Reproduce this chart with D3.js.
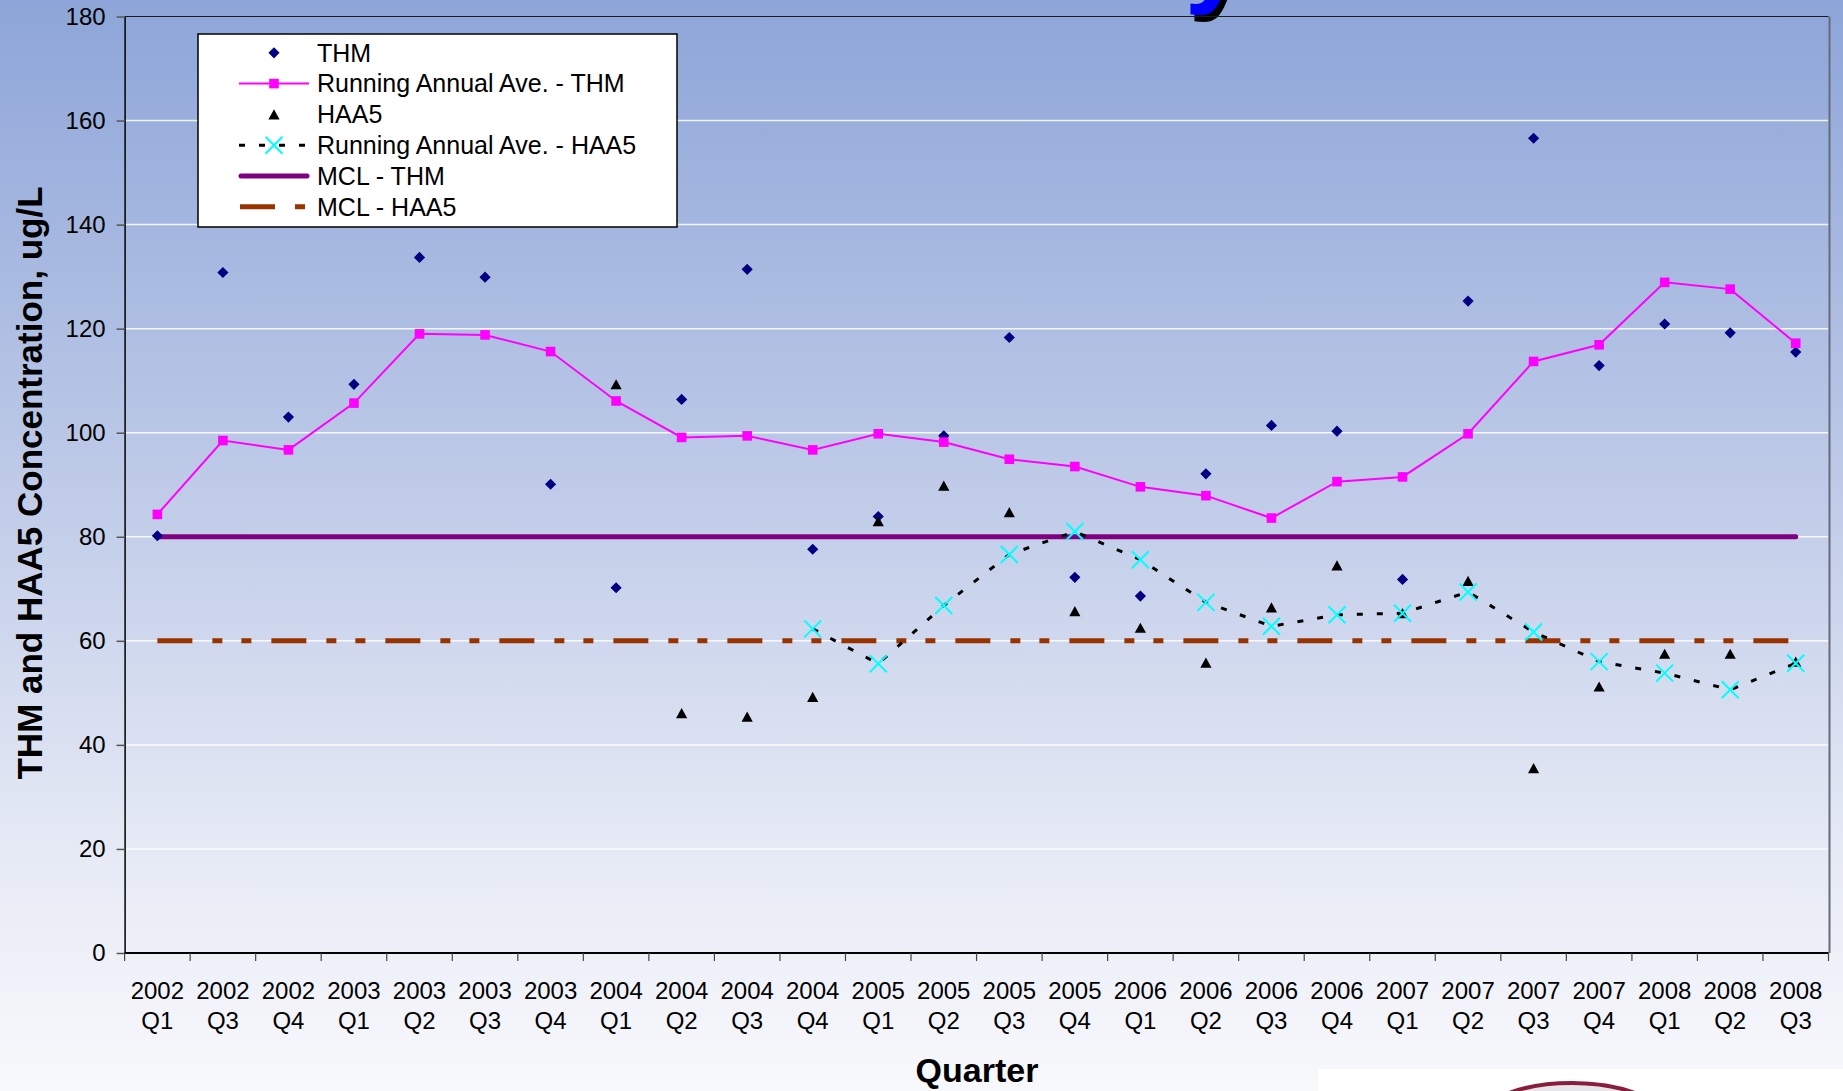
<!DOCTYPE html>
<html>
<head>
<meta charset="utf-8">
<script src="https://cdn.jsdelivr.net/npm/d3@7"></script>
<style>
  html, body { margin: 0; padding: 0; overflow: hidden; background: #f8f9fc; }
  svg { display: block; font-family: "Liberation Sans", Arial, sans-serif; }
</style>
</head>
<body>
<svg id="chart" width="1843" height="1091"></svg>
<script>
// Sampling quarters (2002 Q2 was not sampled)
const categories = [
  "2002 Q1", "2002 Q3", "2002 Q4",
  "2003 Q1", "2003 Q2", "2003 Q3", "2003 Q4",
  "2004 Q1", "2004 Q2", "2004 Q3", "2004 Q4",
  "2005 Q1", "2005 Q2", "2005 Q3", "2005 Q4",
  "2006 Q1", "2006 Q2", "2006 Q3", "2006 Q4",
  "2007 Q1", "2007 Q2", "2007 Q3", "2007 Q4",
  "2008 Q1", "2008 Q2", "2008 Q3"
];

// Total trihalomethanes, ug/L
const thm = [
  80.2, 130.8, 103.0,
  109.3, 133.7, 129.9, 90.1,
  70.2, 106.4, 131.4, 77.6,
  83.9, 99.4, 118.3, 72.2,
  68.6, 92.1, 101.4, 100.3,
  71.8, 125.3, 156.6, 112.9,
  120.9, 119.2, 115.5
];

// Running annual average of THM
const thmRunningAvg = [
  84.3, 98.5, 96.7,
  105.7, 119.0, 118.8, 115.6,
  106.1, 99.1, 99.4, 96.7,
  99.8, 98.2, 94.9, 93.5,
  89.6, 87.9, 83.6, 90.6,
  91.5, 99.8, 113.7, 116.9,
  128.9, 127.6, 117.2
];

// Five haloacetic acids, ug/L (monitoring began 2004 Q1)
const haa5 = [
  null, null, null,
  null, null, null, null,
  109.3, 46.1, 45.4, 49.2,
  83.0, 89.8, 84.7, 65.7,
  62.5, 55.8, 66.4, 74.5,
  65.3, 71.5, 35.5, 51.2,
  57.5, 57.5, 56.0
];

// Running annual average of HAA5
const haa5RunningAvg = [
  null, null, null,
  null, null, null, null,
  null, null, null, 62.3,
  55.6, 66.8, 76.6, 81.0,
  75.6, 67.4, 62.8, 65.0,
  65.3, 69.4, 61.7, 56.0,
  53.8, 50.6, 55.7
];

// Maximum contaminant levels
const mclThm = 80;
const mclHaa5 = 60;

const yTicks = [0, 20, 40, 60, 80, 100, 120, 140, 160, 180];

const legendLabels = [
  "THM",
  "Running Annual Ave. - THM",
  "HAA5",
  "Running Annual Ave. - HAA5",
  "MCL - THM",
  "MCL - HAA5"
];

// ---------------------------------------------------------------
const W = 1843, H = 1091;
const plot = { left: 124.6, right: 1828.5, top: 16.5, bottom: 953 };

const svg = d3.select("#chart");
const defs = svg.append("defs");

const bg = defs.append("linearGradient")
  .attr("id", "bg").attr("x1", 0).attr("y1", 0).attr("x2", 0).attr("y2", 1);
[[0, "#8da5d8"], [0.45, "#bfcbe8"], [0.78, "#e6eaf5"], [1, "#f8f9fc"]]
  .forEach(([o, c]) => bg.append("stop").attr("offset", o).attr("stop-color", c));

const shadow = defs.append("filter").attr("id", "titleShadow")
  .attr("filterUnits", "userSpaceOnUse")
  .attr("x", 800).attr("y", -150).attr("width", 500).attr("height", 200);
shadow.append("feDropShadow").attr("dx", 4).attr("dy", 7)
  .attr("stdDeviation", 0.5).attr("flood-color", "#000").attr("flood-opacity", 1);

svg.append("rect").attr("width", W).attr("height", H).attr("fill", "url(#bg)");

// Slide title (runs above the top edge of the page)
svg.append("text")
  .attr("x", 1246).attr("y", -8)
  .attr("text-anchor", "end")
  .attr("font-size", 110).attr("font-weight", "bold")
  .attr("fill", "#0000ff")
  .attr("filter", "url(#titleShadow)")
  .text("History");

// Logo panel at the lower right
svg.append("rect").attr("x", 1318).attr("y", 1069).attr("width", W - 1318).attr("height", H - 1069)
  .attr("fill", "#ffffff");
svg.append("ellipse").attr("cx", 1572).attr("cy", 1123).attr("rx", 95).attr("ry", 40)
  .attr("fill", "#e6e6e8").attr("stroke", "#8a1d3c").attr("stroke-width", 4);

// Scales
const x = d3.scaleBand().domain(categories).range([plot.left, plot.right]);
const cx = c => x(c) + x.bandwidth() / 2;
const y = d3.scaleLinear().domain([0, 180]).range([plot.bottom, plot.top]);

// Gridlines
svg.append("g").selectAll("line")
  .data(yTicks.filter(t => t > 0 && t < 180))
  .join("line")
  .attr("x1", plot.left).attr("x2", plot.right)
  .attr("y1", d => y(d)).attr("y2", d => y(d))
  .attr("stroke", "#ffffff").attr("stroke-opacity", 0.85).attr("stroke-width", 1.5);

// Plot frame (top and right)
svg.append("line").attr("x1", plot.left).attr("x2", plot.right)
  .attr("y1", plot.top).attr("y2", plot.top).attr("stroke", "#1a1a1a").attr("stroke-width", 1.2);
svg.append("line").attr("x1", plot.right + 1).attr("x2", plot.right + 1)
  .attr("y1", plot.top).attr("y2", plot.bottom).attr("stroke", "#676b7c").attr("stroke-width", 2);

// Y axis
const yAxis = svg.append("g")
  .attr("transform", `translate(${plot.left},0)`)
  .call(d3.axisLeft(y).tickValues(yTicks).tickSize(8).tickPadding(11).tickSizeOuter(0));
yAxis.select(".domain").attr("stroke", "#000").attr("stroke-width", 1.5);
yAxis.selectAll(".tick line").attr("stroke", "#555").attr("stroke-width", 1.5);
yAxis.selectAll(".tick text")
  .attr("font-size", 24).attr("font-family", "Liberation Sans, Arial, sans-serif").attr("fill", "#000");

// X axis: baseline, ticks between categories, two-line labels
svg.append("line").attr("x1", plot.left).attr("x2", plot.right)
  .attr("y1", plot.bottom).attr("y2", plot.bottom)
  .attr("stroke", "#000").attr("stroke-width", 2.2);
const bounds = categories.map(c => x(c)).concat([plot.right]);
svg.append("g").selectAll("line").data(bounds).join("line")
  .attr("x1", d => d).attr("x2", d => d)
  .attr("y1", plot.bottom).attr("y2", plot.bottom + 8)
  .attr("stroke", "#444").attr("stroke-width", 1.2);
const xl = svg.append("g").selectAll("text").data(categories).join("text")
  .attr("text-anchor", "middle").attr("font-size", 24).attr("fill", "#000");
xl.append("tspan").attr("x", d => cx(d)).attr("y", 999).text(d => d.split(" ")[0]);
xl.append("tspan").attr("x", d => cx(d)).attr("y", 1029).text(d => d.split(" ")[1]);

// Axis titles
svg.append("text")
  .attr("transform", `translate(42,483) rotate(-90)`)
  .attr("text-anchor", "middle").attr("font-size", 35).attr("font-weight", "bold")
  .text("THM and HAA5 Concentration, ug/L");
svg.append("text")
  .attr("x", 977).attr("y", 1082)
  .attr("text-anchor", "middle").attr("font-size", 34).attr("font-weight", "bold")
  .text("Quarter");

// MCL reference lines
const first = categories[0], last = categories[categories.length - 1];
svg.append("line")
  .attr("x1", cx(first)).attr("x2", cx(last))
  .attr("y1", y(mclThm)).attr("y2", y(mclThm))
  .attr("stroke", "#800080").attr("stroke-width", 5).attr("stroke-linecap", "round");
const mclDash = "35,20,10,19,10,20";
svg.append("line")
  .attr("x1", cx(first)).attr("x2", cx(last))
  .attr("y1", y(mclHaa5)).attr("y2", y(mclHaa5))
  .attr("stroke", "#993300").attr("stroke-width", 5).attr("stroke-dasharray", mclDash);

// Marker shapes
const diamondPath = "M0,-5.6L5.6,0L0,5.6L-5.6,0Z";
const squarePath = "M-4.8,-4.8H4.8V4.8H-4.8Z";
const trianglePath = "M0,-5.2L5.6,5L-5.6,5Z";
const crossPath = "M-8.5,-8.5L8.5,8.5M-8.5,8.5L8.5,-8.5";

const pts = arr => categories.map((c, i) => ({ c, v: arr[i] })).filter(d => d.v != null);
const line = d3.line().x(d => cx(d.c)).y(d => y(d.v));

// THM samples
svg.append("g").selectAll("path").data(pts(thm)).join("path")
  .attr("d", diamondPath)
  .attr("transform", d => `translate(${cx(d.c)},${y(d.v)})`)
  .attr("fill", "#000080");

// THM running average
svg.append("path").datum(pts(thmRunningAvg))
  .attr("d", line).attr("fill", "none")
  .attr("stroke", "#ff00ff").attr("stroke-width", 2);
svg.append("g").selectAll("path").data(pts(thmRunningAvg)).join("path")
  .attr("d", squarePath)
  .attr("transform", d => `translate(${cx(d.c)},${y(d.v)})`)
  .attr("fill", "#ff00ff");

// HAA5 samples
svg.append("g").selectAll("path").data(pts(haa5)).join("path")
  .attr("d", trianglePath)
  .attr("transform", d => `translate(${cx(d.c)},${y(d.v)})`)
  .attr("fill", "#000");

// HAA5 running average
const raaDash = "6,14";
svg.append("path").datum(pts(haa5RunningAvg))
  .attr("d", line).attr("fill", "none")
  .attr("stroke", "#000").attr("stroke-width", 3).attr("stroke-dasharray", raaDash);
svg.append("g").selectAll("path").data(pts(haa5RunningAvg)).join("path")
  .attr("d", crossPath)
  .attr("transform", d => `translate(${cx(d.c)},${y(d.v)})`)
  .attr("fill", "none").attr("stroke", "#00ffff").attr("stroke-width", 2);

// Legend
const lg = svg.append("g");
lg.append("rect").attr("x", 198).attr("y", 34).attr("width", 479).attr("height", 193)
  .attr("fill", "#fff").attr("stroke", "#000").attr("stroke-width", 1.5);
const rowY = i => 52.8 + i * 30.8;
const sx0 = 239, sx1 = 309, sxm = 274;
// symbols
lg.append("path").attr("d", diamondPath).attr("transform", `translate(${sxm},${rowY(0)})`).attr("fill", "#000080");
lg.append("line").attr("x1", sx0).attr("x2", sx1).attr("y1", rowY(1)).attr("y2", rowY(1))
  .attr("stroke", "#ff00ff").attr("stroke-width", 2);
lg.append("path").attr("d", squarePath).attr("transform", `translate(${sxm},${rowY(1)})`).attr("fill", "#ff00ff");
lg.append("path").attr("d", trianglePath).attr("transform", `translate(${sxm},${rowY(2)})`).attr("fill", "#000");
lg.append("line").attr("x1", sx0).attr("x2", sx1).attr("y1", rowY(3)).attr("y2", rowY(3))
  .attr("stroke", "#000").attr("stroke-width", 3).attr("stroke-dasharray", raaDash);
lg.append("path").attr("d", crossPath).attr("transform", `translate(${sxm},${rowY(3)})`)
  .attr("fill", "none").attr("stroke", "#00ffff").attr("stroke-width", 2);
lg.append("line").attr("x1", sx0 + 2).attr("x2", sx1 - 2).attr("y1", rowY(4)).attr("y2", rowY(4))
  .attr("stroke", "#800080").attr("stroke-width", 5).attr("stroke-linecap", "round");
lg.append("line").attr("x1", sx0 + 1).attr("x2", sx1 - 4).attr("y1", rowY(5)).attr("y2", rowY(5))
  .attr("stroke", "#993300").attr("stroke-width", 5).attr("stroke-dasharray", mclDash);
// labels
lg.selectAll("text").data(legendLabels).join("text")
  .attr("x", 317).attr("y", (d, i) => rowY(i)).attr("dy", "0.35em")
  .attr("font-size", 25).attr("fill", "#000")
  .text(d => d);
</script>
</body>
</html>
